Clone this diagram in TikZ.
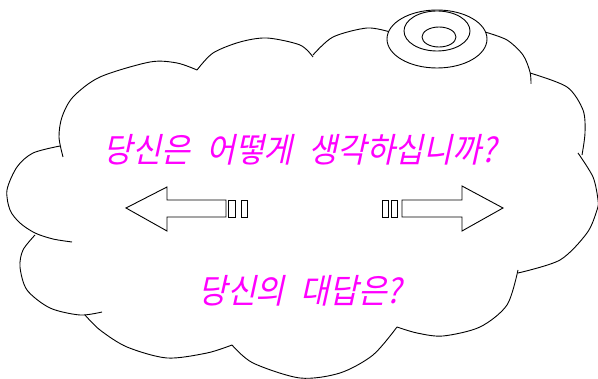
\documentclass[tikz,border=0pt]{standalone}
\usepackage{fontspec}
\newfontfamily\kr[FakeSlant=0.22,FakeStretch=0.92]{Noto Sans CJK KR}
\definecolor{mag}{RGB}{255,0,255}
\begin{document}
\begin{tikzpicture}[x=1pt,y=-1pt,
  cloudline/.style={line width=0.9pt,line join=round},
  blockarrow/.style={draw,line width=0.9pt,fill=white},
  krtext/.style={text=mag,font=\kr\fontsize{34pt}{38pt}\selectfont,inner sep=0pt}]
\useasboundingbox (0,0) rectangle (598,379);
% cloud outline
\draw[cloudline] plot[smooth] coordinates {(63,157) (59,137) (62,117) (73,97) (100,77) (150,62) (177,63) (197,70)};
\draw[cloudline] plot[smooth] coordinates {(197,70) (213,53) (240,42) (267,38) (300,45) (313,57)};
\draw[cloudline] plot[smooth] coordinates {(313,55) (333,37) (367,28) (390,32)};
\draw[cloudline] plot[smooth] coordinates {(485,32) (507,40) (523,55) (530,72) (531,84)};
\draw[cloudline] plot[smooth] coordinates {(530,73) (567,87) (583,110) (585,133) (582,155)};
\draw[cloudline] plot[smooth] coordinates {(578,153) (593,177) (598,200) (597,210) (587,233) (560,260) (518,273)};
\draw[cloudline] plot[smooth] coordinates {(518,270) (507,305) (480,327) (443,336) (417,333) (397,327)};
\draw[cloudline] plot[smooth] coordinates {(397,327) (373,355) (340,373) (300,378) (253,363) (232,345)};
\draw[cloudline] plot[smooth] coordinates {(232,345) (207,353) (167,358) (127,347) (100,330) (85,315)};
\draw[cloudline] plot[smooth] coordinates {(102,312) (80,315) (50,308) (27,290) (20,267) (23,250) (35,235)};
\draw[cloudline] plot[smooth] coordinates {(72,242) (53,239) (35,233) (20,223) (10,210) (7,190) (17,167) (33,153) (60,146)};
% top ellipses
\draw[cloudline,fill=white] (437,39) ellipse[x radius=50,y radius=29];
\draw[cloudline] (437,31) ellipse[x radius=33,y radius=20];
\draw[cloudline] (439,37) ellipse[x radius=17,y radius=10];
% left block arrow
\draw[blockarrow] (226,200) -- (167,200) -- (167,187) -- (126,208) -- (167,231) -- (167,217) -- (226,217) -- cycle;
\draw[blockarrow] (228,200) rectangle (235,217);
\draw[blockarrow] (241,200) rectangle (247,217);
% right block arrow
\draw[blockarrow] (382,200) rectangle (388,217);
\draw[blockarrow] (391,200) rectangle (397,217);
\draw[blockarrow] (402,200) -- (462,200) -- (462,186) -- (503,208) -- (462,231) -- (462,217) -- (402,217) -- cycle;
% texts
\node[krtext] (q) at (300,150) {당신은\hspace{16pt}어떻게\hspace{16pt}생각하십니까?};
\node[krtext] (a) at (300,291) {당신의\hspace{16pt}대답은?};
\end{tikzpicture}
\end{document}
